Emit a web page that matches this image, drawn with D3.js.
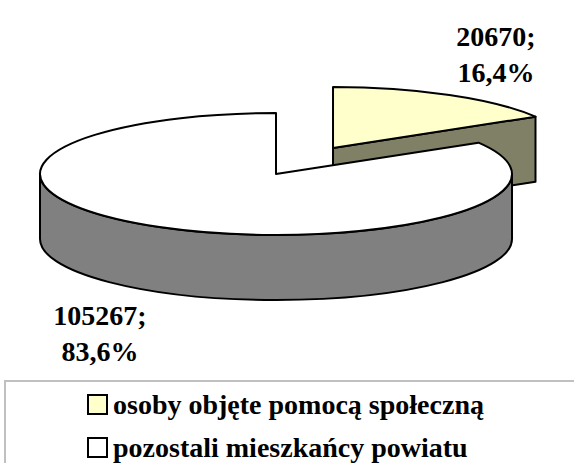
<!DOCTYPE html>
<html><head><meta charset="utf-8">
<script src="https://cdn.jsdelivr.net/npm/d3@7/dist/d3.min.js"></script></head>
<body style="margin:0">
<script>
// data
var categories = ["osoby objęte pomocą społeczną", "pozostali mieszkańcy powiatu"];
var values = [20670, 105267];
var topColors = ["#ffffcc", "#ffffff"];
var sideColors = ["#808066", "#808080"];

var W = 574, H = 463;
var cx = 276, cy = 174;      // centre of the big slice top
var rx = 236, ry = 61, depth = 65;
var explode = [0.49, 0];     // as fraction of radius
var FONT = "bold 28px 'Times New Roman', 'Liberation Serif', serif";

var svg = d3.select("body").append("svg")
    .attr("width", W)
    .attr("height", H)
    .style("display", "block");

var total = d3.sum(values);
var pct = d3.format(".1f");

var pie = d3.pie().sort(null).value(function(d){ return d; });
var arcs = pie(values);

// point on ellipse, angle clockwise from 12 o'clock
function pt(c, a, dy) {
    return [c[0] + rx * Math.sin(a), c[1] - ry * Math.cos(a) + (dy || 0)];
}
function centreOf(d, i) {
    var m = (d.startAngle + d.endAngle) / 2;
    return [cx + explode[i] * rx * Math.sin(m), cy - explode[i] * ry * Math.cos(m)];
}

function topPath(d, c) {
    var p0 = pt(c, d.startAngle), p1 = pt(c, d.endAngle);
    var large = (d.endAngle - d.startAngle) > Math.PI ? 1 : 0;
    return "M" + c + "L" + p0 + "A" + rx + "," + ry + " 0 " + large + " 1 " + p1 + "Z";
}

// outer side visible between 90 and 270 degrees
function sidePath(d, c) {
    var a0 = Math.max(d.startAngle, Math.PI / 2);
    var a1 = Math.min(d.endAngle, 3 * Math.PI / 2);
    if (a1 <= a0) return null;
    var t0 = pt(c, a0), t1 = pt(c, a1), b0 = pt(c, a0, depth), b1 = pt(c, a1, depth);
    return "M" + t0 + "A" + rx + "," + ry + " 0 0 1 " + t1 + "L" + b1 +
        "A" + rx + "," + ry + " 0 0 0 " + b0 + "Z";
}

// cut face at end angle (faces the viewer when end angle < 180deg)
function facePath(d, c) {
    var a = d.endAngle;
    if (a >= Math.PI) return null;
    var p = pt(c, a);
    return "M" + c + "L" + p + "L" + [p[0], p[1] + depth] + "L" + [c[0], c[1] + depth] + "Z";
}

var g = svg.append("g")
    .attr("stroke", "#000")
    .attr("stroke-width", 2)
    .attr("stroke-linejoin", "round");

// small slice sits behind, draw it first
arcs.forEach(function(d, i){
    var c = centreOf(d, i);
    var s = sidePath(d, c), f = facePath(d, c);
    if (s) g.append("path").attr("d", s).attr("fill", sideColors[i]);
    if (f) g.append("path").attr("d", f).attr("fill", sideColors[i]);
    g.append("path").attr("d", topPath(d, c)).attr("fill", topColors[i]);
});

// labels
var labelPos = [[496, 46], [100, 325]];
var lines = [];
arcs.forEach(function(d, i){
    lines.push({x: labelPos[i][0], y: labelPos[i][1], t: values[i] + ";"});
    lines.push({x: labelPos[i][0], y: labelPos[i][1] + 36,
        t: pct(values[i] / total * 100).replace(".", ",") + "%"});
});
svg.selectAll(".lbl").data(lines).enter().append("text")
    .attr("class", "lbl")
    .attr("x", function(d){ return d.x; })
    .attr("y", function(d){ return d.y; })
    .attr("text-anchor", "middle")
    .style("font", FONT)
    .text(function(d){ return d.t; });

// legend
svg.append("rect")
    .attr("x", 5).attr("y", 381)
    .attr("width", 620).attr("height", 200)
    .attr("fill", "none")
    .attr("stroke", "#c0c0c0")
    .attr("stroke-width", 2);

var leg = svg.selectAll(".leg")
    .data(categories)
    .enter().append("g")
    .attr("class", "leg")
    .attr("transform", function(d, i){ return "translate(88," + (395 + i * 43) + ")"; });

leg.append("rect")
    .attr("width", 19).attr("height", 19)
    .attr("fill", function(d, i){ return topColors[i]; })
    .attr("stroke", "#000")
    .attr("stroke-width", 2);

leg.append("text")
    .attr("x", 25).attr("y", 19)
    .style("font", FONT)
    .text(function(d){ return d; });
</script>
</body>
</html>
